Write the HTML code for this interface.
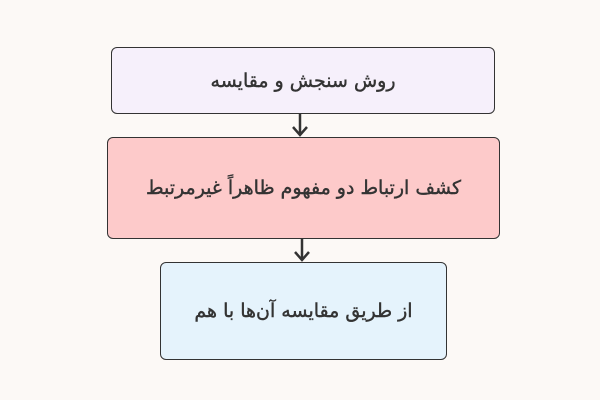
<!DOCTYPE html>
<html><head><meta charset="utf-8"><style>
body{margin:0;width:600px;height:400px;background:#fcf9f6;position:relative;overflow:hidden;font-family:"DejaVu Sans","Liberation Sans",sans-serif;}
.b{position:absolute;box-sizing:border-box;border:1px solid #333;border-radius:6px;display:flex;align-items:center;justify-content:center;direction:rtl;font-size:19px;color:#333;-webkit-text-stroke:0.4px #333;}
</style></head><body>
<div class="b" style="left:111px;top:47px;width:384px;height:67px;background:#f6f0fb">روش سنجش و مقایسه</div>
<div class="b" style="left:107px;top:137px;width:393px;height:102px;background:#fdcaca">کشف ارتباط دو مفهوم ظاهراً غیرمرتبط</div>
<div class="b" style="left:160px;top:262px;width:287px;height:98px;background:#e5f3fc">از طریق مقایسه آن‌ها با هم</div>
<svg width="600" height="400" style="position:absolute;left:0;top:0">
<g stroke="#333" stroke-width="2.5" fill="none">
<line x1="300" y1="114" x2="300" y2="135"/><polyline points="293,127 300,135 307,127"/>
<line x1="302" y1="239" x2="302" y2="260"/><polyline points="295,252 302,260 309,252"/>
</g></svg>
</body></html>
